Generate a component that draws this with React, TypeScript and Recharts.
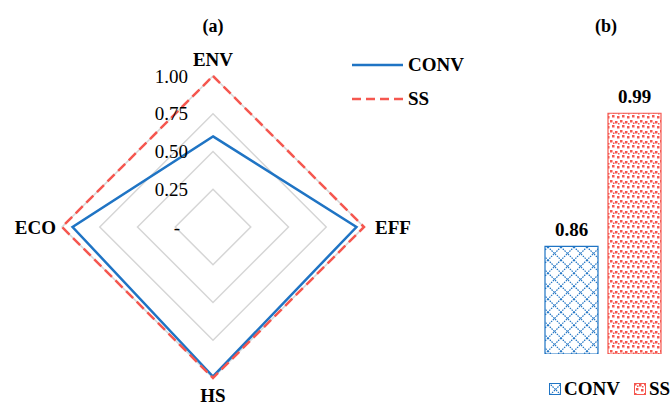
import { Bar, BarChart, Cell, LabelList, Legend, PolarAngleAxis, PolarGrid, PolarRadiusAxis, Radar, RadarChart, XAxis, YAxis } from "recharts";

const AXES = ["ENV", "EFF", "HS", "ECO"];
const CONV_SCORES = [0.6, 0.95, 0.99, 0.93];
const SS_SCORES = [1, 1, 1, 1];
const RADIUS_TICKS = [0, 0.25, 0.5, 0.75, 1];

const BAR_GROUPS = ["CONV", "SS"];
const BAR_VALUES = [0.86, 0.99];

const FONT = "'Liberation Serif', 'Times New Roman', serif";
const BLUE = "#1f74c4";
const RED = "#f5574f";

const radarData = AXES.map((axis, i) => ({ axis, CONV: CONV_SCORES[i], SS: SS_SCORES[i] }));
const barData = BAR_GROUPS.map((name, i) => ({ name, value: BAR_VALUES[i] }));
const BAR_FILL: Record<string, { fill: string; stroke: string }> = {
  CONV: { fill: "url(#patConv)", stroke: BLUE },
  SS: { fill: "url(#patSS)", stroke: RED },
};

function AngleTick({ x, y, payload }: any) {
  const v = payload.value;
  let dx = 0;
  let dy = 0;
  let anchor: "start" | "middle" | "end" = "middle";
  if (v === "ENV") dy = -9;
  if (v === "HS") dy = 9;
  if (v === "EFF") { dx = 3; anchor = "start"; }
  if (v === "ECO") { dx = 2; anchor = "end"; }
  return (
    <text x={x + dx} y={y + dy} textAnchor={anchor} dominantBaseline="central" fontFamily={FONT} fontWeight="bold" fontSize={19} fill="#000">
      {v}
    </text>
  );
}

function RadiusTick({ x, y, payload }: any) {
  const v = payload.value as number;
  return (
    <text x={x - (v === 0 ? 33 : 25)} y={y} textAnchor="end" dominantBaseline="central" fontFamily={FONT} fontSize={19} fill="#000">
      {v === 0 ? "-" : v.toFixed(2)}
    </text>
  );
}

function RadarLegend({ payload }: any) {
  return (
    <div>
      {(payload || []).map((p: any) => (
        <div key={p.value} style={{ display: "flex", alignItems: "center", height: 34 }}>
          <svg width={54} height={10}>
            <line x1={1} y1={5} x2={52} y2={5} stroke={p.color} strokeWidth={2.5} strokeDasharray={p.value === "SS" ? "9 5" : undefined} />
          </svg>
          <span style={{ fontFamily: FONT, fontWeight: "bold", fontSize: 19, marginLeft: 3 }}>{p.value}</span>
        </div>
      ))}
    </div>
  );
}

function BarLegend() {
  return (
    <div style={{ display: "flex", alignItems: "center" }}>
      {BAR_GROUPS.map((g, i) => (
        <div key={g} style={{ display: "flex", alignItems: "center", marginRight: i === 0 ? 14 : 0 }}>
          <svg width={13} height={13}>
            <rect x={0.5} y={0.5} width={11} height={11} fill={BAR_FILL[g].fill} stroke={BAR_FILL[g].stroke} strokeWidth={1} />
          </svg>
          <span style={{ fontFamily: FONT, fontWeight: "bold", fontSize: 19, marginLeft: 2 }}>{g}</span>
        </div>
      ))}
    </div>
  );
}

const titleStyle = { position: "absolute" as const, top: 16, fontFamily: FONT, fontWeight: "bold" as const, fontSize: 18, transform: "translateX(-50%)" };

export default function App() {
  return (
    <div style={{ position: "fixed", left: 0, top: 0, width: 672, height: 404, background: "#fff", overflow: "hidden" }}>
      <svg width={0} height={0} style={{ position: "absolute" }}>
        <defs>
          <pattern id="patConv" width={13} height={13} patternUnits="userSpaceOnUse">
            <rect width={13} height={13} fill="#fff" />
            <path d="M0 0 L13 13 M13 0 L0 13" stroke={BLUE} strokeWidth={1.2} strokeDasharray="1.5 1" />
          </pattern>
          <pattern id="patSS" width={10} height={10} patternUnits="userSpaceOnUse">
            <rect width={10} height={10} fill="#fff" />
            <rect x={0} y={0} width={2.5} height={2.5} fill={RED} />
            <rect x={5} y={1} width={2.5} height={2.5} fill={RED} />
            <rect x={2} y={5} width={2.5} height={2.5} fill={RED} />
            <rect x={7} y={6} width={2.5} height={2.5} fill={RED} />
            <rect x={3} y={2.5} width={1.5} height={1.5} fill={RED} />
            <rect x={8} y={3} width={1.5} height={1.5} fill={RED} />
          </pattern>
        </defs>
      </svg>

      <div style={{ ...titleStyle, left: 213 }}>(a)</div>
      <div style={{ ...titleStyle, left: 606 }}>(b)</div>

      <div style={{ position: "absolute", left: 0, top: 0 }}>
        <RadarChart width={470} height={404} data={radarData} cx={213} cy={227} outerRadius={151} margin={{ top: 0, right: 0, bottom: 0, left: 0 }}>
          <PolarGrid gridType="polygon" radialLines={false} stroke="#d6d6d6" strokeWidth={1.5} />
          <PolarAngleAxis dataKey="axis" tick={AngleTick} tickLine={false} axisLine={false} />
          <PolarRadiusAxis angle={90} domain={[0, 1]} ticks={RADIUS_TICKS as any} tickCount={5} axisLine={false} tickLine={false} tick={RadiusTick} />
          <Radar name="CONV" dataKey="CONV" stroke={BLUE} strokeWidth={2.5} fill="none" fillOpacity={0} isAnimationActive={false} />
          <Radar name="SS" dataKey="SS" stroke={RED} strokeWidth={2.5} strokeDasharray="10 5" fill="none" fillOpacity={0} isAnimationActive={false} />
          <Legend content={RadarLegend} verticalAlign="middle" wrapperStyle={{ position: "absolute", left: 351, top: 48, width: 120 }} />
        </RadarChart>
      </div>

      <div style={{ position: "absolute", left: 470, top: 0 }}>
        <BarChart width={202} height={404} data={barData} margin={{ top: 103, right: 6, bottom: 50, left: 70 }} barSize={53}>
          <XAxis dataKey="name" hide />
          <YAxis type="number" domain={[0.755, 1]} allowDataOverflow hide />
          <Bar dataKey="value" isAnimationActive={false}>
            {barData.map((d) => (
              <Cell key={d.name} fill={BAR_FILL[d.name].fill} stroke={BAR_FILL[d.name].stroke} strokeWidth={1.2} />
            ))}
            <LabelList dataKey="value" position="top" offset={10} formatter={(v: any) => Number(v).toFixed(2)} style={{ fontFamily: FONT, fontWeight: "bold", fontSize: 19, fill: "#000" }} />
          </Bar>
          <Legend content={BarLegend} verticalAlign="middle" wrapperStyle={{ position: "absolute", left: 79, top: 378, width: 140 }} />
        </BarChart>
      </div>
    </div>
  );
}
